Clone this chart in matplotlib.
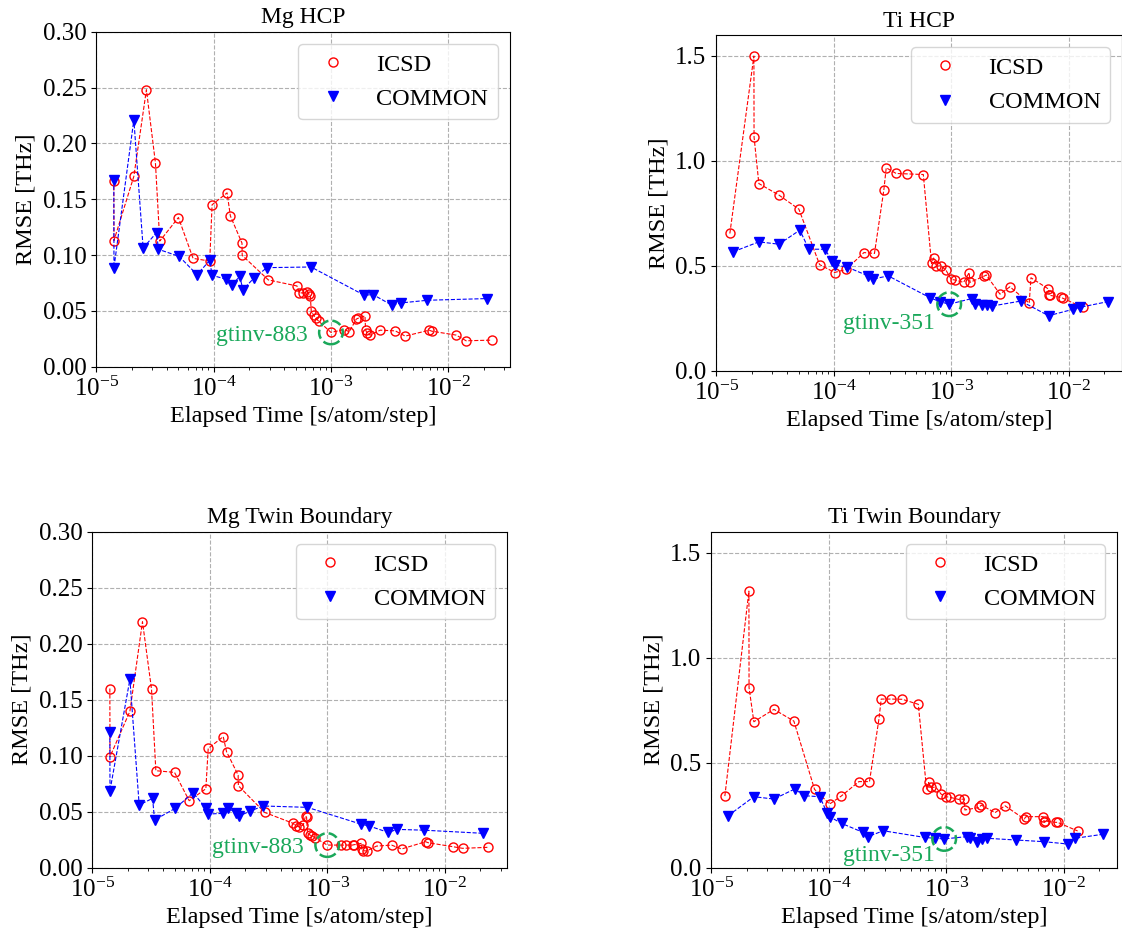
import numpy as np
import matplotlib
matplotlib.use("Agg")
import matplotlib.pyplot as plt
from matplotlib.lines import Line2D
from matplotlib.ticker import LogLocator, FixedLocator, FormatStrFormatter

plt.rcParams["font.family"] = ["Liberation Serif", "DejaVu Serif"]
plt.rcParams["mathtext.fontset"] = "stix"

# ---------------- data: elapsed time [s/atom/step] and RMSE [THz] ----------------
mg_icsd_time = [1.406e-5, 1.410e-5, 2.084e-5, 2.667e-5, 3.184e-5, 3.467e-5, 5.000e-5,
                6.668e-5, 9.247e-5, 9.683e-5, 1.300e-4, 1.387e-4, 1.742e-4, 1.750e-4,
                2.924e-4, 5.129e-4, 5.370e-4, 5.741e-4, 6.252e-4, 6.531e-4, 6.668e-4,
                6.792e-4, 7.112e-4, 7.447e-4, 7.852e-4, 1.000e-3, 1.300e-3, 1.432e-3,
                1.644e-3, 1.687e-3, 1.950e-3, 1.972e-3, 2.028e-3, 2.163e-3, 2.630e-3,
                3.532e-3, 4.295e-3, 6.887e-3, 7.244e-3, 1.169e-2, 1.422e-2, 2.350e-2]
mg_hcp_icsd = [0.1667, 0.1130, 0.1705, 0.2480, 0.1824, 0.1125, 0.1336, 0.0970, 0.0946,
               0.1450, 0.1557, 0.1350, 0.1107, 0.0997, 0.0777, 0.0723, 0.0661, 0.0661,
               0.0670, 0.0649, 0.0631, 0.0497, 0.0461, 0.0432, 0.0408, 0.0307, 0.0333,
               0.0313, 0.0426, 0.0432, 0.0455, 0.0333, 0.0298, 0.0283, 0.0327, 0.0321,
               0.0274, 0.0327, 0.0318, 0.0283, 0.0232, 0.0238]
mg_twin_icsd = [0.1600, 0.0991, 0.1396, 0.2196, 0.1595, 0.0866, 0.0851, 0.0598, 0.0705,
                0.1065, 0.1170, 0.1036, 0.0827, 0.0732, 0.0494, 0.0396, 0.0372, 0.0366,
                0.0381, 0.0462, 0.0450, 0.0307, 0.0292, 0.0283, 0.0268, 0.0202, 0.0202,
                0.0202, 0.0202, 0.0205, 0.0217, 0.0167, 0.0152, 0.0149, 0.0193, 0.0202,
                0.0167, 0.0232, 0.0223, 0.0188, 0.0173, 0.0182]

mg_common_time = [1.406e-5, 1.410e-5, 2.084e-5, 2.500e-5, 3.251e-5, 3.381e-5, 5.070e-5,
                  7.211e-5, 9.247e-5, 9.683e-5, 1.282e-4, 1.432e-4, 1.663e-4, 1.778e-4,
                  2.208e-4, 2.844e-4, 6.761e-4, 1.923e-3, 2.280e-3, 3.311e-3, 3.945e-3,
                  6.653e-3, 2.133e-2]
mg_hcp_common = [0.1673, 0.0887, 0.2211, 0.1063, 0.1200, 0.1051, 0.0988, 0.0824, 0.0952,
                 0.0818, 0.0783, 0.0729, 0.0810, 0.0690, 0.0795, 0.0887, 0.0893, 0.0640,
                 0.0646, 0.0551, 0.0571, 0.0595, 0.0610]
mg_twin_common = [0.1208, 0.0688, 0.1682, 0.0560, 0.0619, 0.0426, 0.0530, 0.0670, 0.0530,
                  0.0479, 0.0485, 0.0530, 0.0488, 0.0461, 0.0506, 0.0551, 0.0539, 0.0390,
                  0.0372, 0.0315, 0.0342, 0.0335, 0.0307]

ti_icsd_time = [1.300e-5, 2.084e-5, 2.090e-5, 2.296e-5, 3.404e-5, 5.035e-5, 7.551e-5,
                1.014e-4, 1.274e-4, 1.803e-4, 2.218e-4, 2.667e-4, 2.793e-4, 3.396e-4,
                4.217e-4, 5.781e-4, 6.792e-4, 7.079e-4, 7.396e-4, 8.166e-4, 9.016e-4,
                1.000e-3, 1.081e-3, 1.274e-3, 1.422e-3, 1.442e-3, 1.910e-3, 1.986e-3,
                2.600e-3, 3.162e-3, 4.613e-3, 4.775e-3, 6.699e-3, 6.839e-3, 6.966e-3,
                8.590e-3, 8.872e-3, 1.315e-2]
ti_hcp_icsd = [0.654, 1.500, 1.114, 0.892, 0.837, 0.770, 0.506, 0.468, 0.483, 0.563,
               0.559, 0.863, 0.967, 0.940, 0.938, 0.935, 0.511, 0.537, 0.498, 0.500,
               0.479, 0.435, 0.432, 0.421, 0.468, 0.421, 0.451, 0.456, 0.365, 0.400,
               0.322, 0.443, 0.390, 0.363, 0.359, 0.349, 0.346, 0.302]
ti_twin_icsd = [0.341, 1.317, 0.857, 0.695, 0.754, 0.698, 0.373, 0.303, 0.341, 0.410,
                0.410, 0.706, 0.803, 0.803, 0.802, 0.778, 0.375, 0.406, 0.383, 0.383,
                0.351, 0.338, 0.335, 0.325, 0.327, 0.275, 0.287, 0.298, 0.262, 0.295,
                0.232, 0.243, 0.243, 0.216, 0.222, 0.216, 0.216, 0.175]

ti_common_time = [1.390e-5, 2.296e-5, 3.404e-5, 5.129e-5, 6.124e-5, 8.375e-5, 9.683e-5,
                  1.014e-4, 1.282e-4, 1.959e-4, 2.163e-4, 2.904e-4, 6.577e-4, 7.998e-4,
                  9.600e-4, 1.500e-3, 1.600e-3, 1.824e-3, 2.000e-3, 2.218e-3, 3.917e-3,
                  6.745e-3, 1.079e-2, 1.247e-2, 2.148e-2]
ti_hcp_common = [0.567, 0.614, 0.603, 0.670, 0.579, 0.579, 0.524, 0.503, 0.495, 0.452,
                 0.437, 0.452, 0.348, 0.329, 0.317, 0.344, 0.317, 0.311, 0.311, 0.308,
                 0.332, 0.262, 0.292, 0.302, 0.329]
ti_twin_common = [0.248, 0.338, 0.327, 0.375, 0.343, 0.338, 0.259, 0.243, 0.211, 0.168,
                  0.148, 0.176, 0.144, 0.140, 0.137, 0.148, 0.140, 0.121, 0.135, 0.140,
                  0.132, 0.124, 0.113, 0.140, 0.159]

# highlighted potentials (index into the series they belong to)
mg_highlight = ("gtinv-883", "icsd", 25)
ti_highlight = ("gtinv-351", "common", 14)

mg_yticks = [0.00, 0.05, 0.10, 0.15, 0.20, 0.25, 0.30]
ti_yticks = [0.0, 0.5, 1.0, 1.5]

GREEN = "#1aa85a"
FS = 17.5

fig = plt.figure(figsize=(11.22, 9.40), dpi=100)
W, H = 1122.0, 940.0


def make_axes(left, top, width, height):
    return fig.add_axes([left / W, 1 - (top + height) / H, width / W, height / H])


panels = [
    dict(ax=make_axes(96.0, 31.7, 414.0, 335.0), title="Mg HCP",
         t_icsd=mg_icsd_time, icsd=mg_hcp_icsd, t_com=mg_common_time, com=mg_hcp_common,
         yt=mg_yticks, ylim=(0, 0.30), fmt="%.2f", xlim=(10**-5.004, 10**-1.473),
         hl=mg_highlight, off=(-17, -2)),
    dict(ax=make_axes(716.0, 35.0, 406.3, 335.7), title="Ti HCP",
         t_icsd=ti_icsd_time, icsd=ti_hcp_icsd, t_com=ti_common_time, com=ti_hcp_common,
         yt=ti_yticks, ylim=(0, 1.6), fmt="%.1f", xlim=(10**-5.004, 10**-1.543),
         hl=ti_highlight, off=(-10, -14)),
    dict(ax=make_axes(92.0, 531.7, 415.3, 336.0), title="Mg Twin Boundary",
         t_icsd=mg_icsd_time, icsd=mg_twin_icsd, t_com=mg_common_time, com=mg_twin_common,
         yt=mg_yticks, ylim=(0, 0.30), fmt="%.2f", xlim=(10**-5.004, 10**-1.466),
         hl=mg_highlight, off=(-17, -2)),
    dict(ax=make_axes(711.0, 531.7, 406.3, 336.0), title="Ti Twin Boundary",
         t_icsd=ti_icsd_time, icsd=ti_twin_icsd, t_com=ti_common_time, com=ti_twin_common,
         yt=ti_yticks, ylim=(0, 1.6), fmt="%.1f", xlim=(10**-5.004, 10**-1.543),
         hl=ti_highlight, off=(-7, -12)),
]

for p in panels:
    ax = p["ax"]
    ax.plot(p["t_icsd"], p["icsd"], linestyle="--", linewidth=0.8, color="red",
            marker="o", markersize=6.5, markerfacecolor="none", markeredgecolor="red",
            markeredgewidth=1.0, zorder=3)
    ax.plot(p["t_com"], p["com"], linestyle="--", linewidth=0.8, color="blue",
            marker="v", markersize=7, markerfacecolor="blue", markeredgecolor="blue",
            zorder=3)
    ax.set_xscale("log")
    ax.set_xlim(*p["xlim"])
    ax.set_ylim(*p["ylim"])
    ax.yaxis.set_major_locator(FixedLocator(p["yt"]))
    ax.yaxis.set_major_formatter(FormatStrFormatter(p["fmt"]))
    ax.xaxis.set_major_locator(LogLocator(base=10))
    ax.xaxis.set_minor_locator(LogLocator(base=10, subs=np.arange(2, 10)))
    ax.tick_params(axis="both", which="major", labelsize=18)
    ax.grid(True, which="major", linestyle="--", color="#b0b0b0", linewidth=0.8)
    ax.set_axisbelow(True)
    ax.set_xlabel("Elapsed Time [s/atom/step]", fontsize=FS)
    ax.set_ylabel("RMSE [THz]", fontsize=FS)
    ax.set_title(p["title"], fontsize=17)

    name, which, idx = p["hl"]
    if which == "icsd":
        hx, hy = p["t_icsd"][idx], p["icsd"][idx]
    else:
        hx, hy = p["t_com"][idx], p["com"][idx]
    ax.scatter([hx], [hy], s=290, facecolors="none", edgecolors=GREEN,
               linewidths=1.8, linestyles="--", zorder=4)
    ax.annotate(name, xy=(hx, hy), xytext=p["off"], textcoords="offset points",
                ha="right", va="center", color=GREEN, fontsize=17, zorder=5)

    handles = [
        Line2D([], [], linestyle="none", marker="o", markersize=6.5,
               markerfacecolor="none", markeredgecolor="red", markeredgewidth=1.0),
        Line2D([], [], linestyle="none", marker="v", markersize=7,
               markerfacecolor="blue", markeredgecolor="blue"),
    ]
    ax.legend(handles, ["ICSD", "COMMON"], loc="upper right", fontsize=FS)

fig.savefig("out.png", dpi=100)
